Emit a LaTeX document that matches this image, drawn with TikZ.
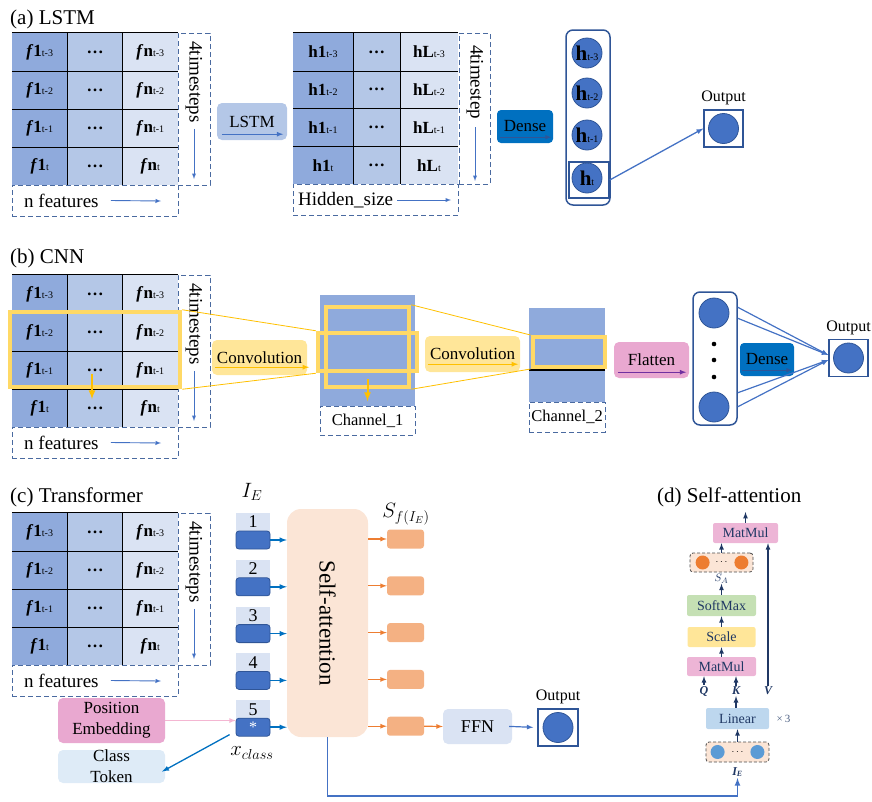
\documentclass[tikz,border=0pt]{standalone}
\usepackage{fontspec}
\setmainfont{Liberation Serif}
\usetikzlibrary{arrows,calc,positioning}

\definecolor{colA}{HTML}{8FAADC}
\definecolor{colB}{HTML}{B4C7E7}
\definecolor{colC}{HTML}{DAE3F3}
\definecolor{cFrame}{HTML}{2F5597}
\definecolor{cDash}{HTML}{4A6AA0}
\definecolor{cBall}{HTML}{4472C4}
\definecolor{cDense}{HTML}{0070C0}
\definecolor{cConv}{HTML}{FFE699}
\definecolor{cWin}{HTML}{FFD966}
\definecolor{cGold}{HTML}{FFC000}
\definecolor{cPink}{HTML}{E9A8D0}
\definecolor{cPinkD}{HTML}{EDB5D6}
\definecolor{cPinkA}{HTML}{F4B6D2}
\definecolor{cPurp}{HTML}{7030A0}
\definecolor{cSA}{HTML}{FBE5D6}
\definecolor{cSF}{HTML}{F4B183}
\definecolor{cOrA}{HTML}{ED7D31}
\definecolor{cTok}{HTML}{0070C0}
\definecolor{cNavy}{HTML}{203864}
\definecolor{cSoft}{HTML}{C5E0B4}
\definecolor{cLin}{HTML}{BDD7EE}
\definecolor{cDot}{HTML}{5B9BD5}
\definecolor{cCls}{HTML}{DEEBF7}

\newcommand{\idx}[1]{{\fontsize{10}{10}\selectfont\mdseries\upshape #1}}

\begin{document}
\begin{tikzpicture}[x=1pt, y=-1pt,
    cell/.style  ={rectangle, minimum width=55.3, minimum height=38, inner sep=0, font=\fontsize{17}{17}\selectfont\bfseries},
    grid/.style  ={draw=black, line width=0.9pt},
    dbox/.style  ={rectangle, draw=cDash, dash pattern=on 5pt off 3pt, line width=1pt, inner sep=0},
    title/.style ={anchor=west, inner sep=0, font=\fontsize{21}{21}\selectfont},
    lbl/.style   ={inner sep=0, font=\fontsize{19}{19}\selectfont},
    op/.style    ={rectangle, rounded corners=5pt, inner sep=0, font=\fontsize{17}{17}\selectfont},
    flow/.style  ={-latex, draw=cBall, line width=0.9pt},
    ball/.style  ={circle, fill=cBall, draw=cFrame, line width=0.8pt, minimum size=30, inner sep=0},
    outsq/.style ={rectangle, draw=cFrame, line width=1.5pt, minimum width=39, minimum height=37},
    win/.style   ={rectangle, draw=cWin, line width=4.5pt, inner sep=0},
    ray/.style   ={draw=cGold, line width=0.8pt},
    tokl/.style  ={rectangle, fill=colC, minimum width=34, minimum height=36, inner sep=0},
    tokd/.style  ={rectangle, rounded corners=3pt, fill=cBall, draw=cFrame, line width=0.8pt, minimum width=34, minimum height=18, inner sep=0},
    sfbox/.style ={rectangle, rounded corners=3pt, fill=cSF, minimum width=37, minimum height=19, inner sep=0},
    tokarrow/.style={-latex, draw=cTok, line width=1.5pt},
    orarrow/.style ={-latex, draw=cOrA, line width=1.2pt},
    blk/.style   ={rectangle, rounded corners=2pt, minimum height=20, inner sep=0, text=cNavy, font=\fontsize{14}{14}\selectfont},
    dots/.style  ={rectangle, rounded corners=3pt, draw=black!70, dash pattern=on 3pt off 2pt, line width=0.8pt, fill=cSA, inner sep=0},
    dot/.style   ={circle, minimum size=14, inner sep=0},
    qkv/.style   ={inner sep=1pt, text=cNavy, font=\fontsize{12}{12}\selectfont\bfseries\itshape},
    up/.style    ={-latex, draw=cNavy, line width=1.2pt}]

    \useasboundingbox (0,0) rectangle (872,801);

    \node[title] at(10,19)  (ta) {(a) LSTM};
    \node[title] at(10,258) (tb) {(b) CNN};
    \node[title] at(10,497) (tc) {(c) Transformer};
    \node[title] at(657,497) (td) {(d) Self-attention};

    \foreach \tb/\ty in {a/33, b/275, c/513}{
      \foreach \rw/\sb in {0/t-3, 1/t-2, 2/t-1, 3/t}{
        \node[cell, fill=colA] at(39.7, \ty+19+38*\rw)  (\tb-\rw-1) {\textit{f}1\idx{\sb}};
        \node[cell, fill=colB] at(95,   \ty+19+38*\rw)  (\tb-\rw-2) {…};
        \node[cell, fill=colC] at(150.3,\ty+19+38*\rw)  (\tb-\rw-3) {\textit{f}n\idx{\sb}};
      }
      \draw[grid] (\tb-0-1.north west) -- (\tb-0-3.north east);
      \foreach \rw in {0,1,2}{
        \draw[grid] (\tb-\rw-1.south west) -- (\tb-\rw-3.south east);
      }
      \draw[grid] (\tb-0-1.north east) -- (\tb-3-1.south east);
      \draw[grid] (\tb-0-2.north east) -- (\tb-3-2.south east);
      \node[dbox, minimum width=32, minimum height=152]  at(194, \ty+76)    (\tb-steps) {};
      \node[dbox, minimum width=166, minimum height=31]  at(95, \ty+167.5)  (\tb-feat)  {};
      \node[lbl, rotate=-90] at(194, \ty+49) (\tb-st) {4timesteps};
      \coordinate (\tb-stend) at(194, \ty+146);
      \draw[flow] ($(\tb-st.east)+(0,6)$) -- (\tb-stend);
      \node[lbl, anchor=west] at(24, \ty+167.5) (\tb-nf) {n features};
      \coordinate (\tb-nfend) at(161, \ty+168);
      \draw[flow] ($(\tb-nf.east)+(12,0)$) -- (\tb-nfend);
    }

    \node[op, fill=colB, minimum width=70, minimum height=37] at(252,121.5) (lstm) {LSTM};
    \draw[flow, line width=1.2pt] ($(lstm.south west)+(5,-6)$) -- ($(lstm.south east)+(-4,-6)$);

    \foreach \rw/\sb in {0/t-3, 1/t-2, 2/t-1, 3/t}{
      \node[cell, fill=colA, minimum width=60] at(323,   51.9+37.75*\rw) (h-\rw-1) {h1\idx{\sb}};
      \node[cell, fill=colB, minimum width=47] at(376.5, 51.9+37.75*\rw) (h-\rw-2) {…};
      \node[cell, fill=colC, minimum width=58] at(429,   51.9+37.75*\rw) (h-\rw-3) {hL\idx{\sb}};
    }
    \draw[grid] (h-0-1.north west) -- (h-0-3.north east);
    \foreach \rw in {0,1,2}{
      \draw[grid] (h-\rw-1.south west) -- (h-\rw-3.south east);
    }
    \draw[grid] (h-0-1.north east) -- (h-3-1.south east);
    \draw[grid] (h-0-2.north east) -- (h-3-2.south east);
    \node[dbox, minimum width=165, minimum height=31] at(375.5,199.5) (hid) {};
    \node[lbl, anchor=west] at(298,200) (hidtxt) {Hidden\_size};
    \coordinate (hidend) at(451,200);
    \draw[flow] ($(hidtxt.east)+(4,0)$) -- (hidend);
    \node[dbox, minimum width=31, minimum height=151] at(474.5,108.5) (hsteps) {};
    \node[lbl, rotate=-90] at(475,82) (hst) {4timestep};
    \coordinate (hstend) at(475,181);
    \draw[flow] ($(hst.east)+(0,8)$) -- (hstend);

    \node[op, fill=cDense, rounded corners=4pt, minimum width=56, minimum height=33] at(525,126.5) (densea) {Dense};
    \draw[-latex, draw=cFrame, line width=1pt] ($(densea.south west)+(3,-6)$) -- ($(densea.south east)+(-2,-6)$);
    \node[rectangle, draw=cFrame, line width=1.5pt, rounded corners=7pt, minimum width=44, minimum height=175] at(588,117.5) (hcol) {};
    \node[ball, font=\fontsize{21}{21}\selectfont\bfseries] at(587,53)  (h3) {h\idx{t-3}};
    \node[ball, font=\fontsize{21}{21}\selectfont\bfseries] at(587,93)  (h2) {h\idx{t-2}};
    \node[ball, font=\fontsize{21}{21}\selectfont\bfseries] at(587,135) (h1) {h\idx{t-1}};
    \node[ball, font=\fontsize{21}{21}\selectfont\bfseries] at(587,178) (h0) {h\idx{t}};
    \node[rectangle, draw=cFrame, line width=1.5pt, minimum width=40, minimum height=36] at(589,180) (htbox) {};
    \node[outsq] at(723.5,128.5) (outa) {};
    \node[ball] at(outa) (outab) {};
    \node[lbl, font=\fontsize{16}{16}\selectfont, above=4pt of outa] (outal) {Output};
    \draw[flow, line width=1.3pt] (htbox.east) -- (outa.west);

    \node[win, minimum width=170, minimum height=75] at(95,349.5) (wina) {};
    \draw[-latex, draw=cGold, line width=2pt] ($(wina.south)+(-3,-15)$) -- ($(wina.south)+(-3,10)$);
    \node[op, fill=cConv, minimum width=95, minimum height=35] at(259.5,357.5) (conva) {Convolution};
    \draw[-latex, draw=cGold, line width=1.3pt] ($(conva.south west)+(3,-8)$) -- ($(conva.south east)+(2,-8)$);
    \node[rectangle, fill=colA, minimum width=95, minimum height=111] at(367.5,350.5) (cha) {};
    \node[win, minimum width=83, minimum height=80] at(367.5,347) (vwina) {};
    \node[win, minimum width=99, minimum height=38] at(367.5,352) (hwina) {};
    \draw[-latex, draw=cGold, line width=2pt] ($(hwina.south)+(0,6)$) -- ($(hwina.south)+(0,28)$);
    \node[dbox, minimum width=95, minimum height=29, font=\fontsize{16.5}{16.5}\selectfont] at(367.5,420.5) (chal) {Channel\_1};
    \draw[ray] (wina.north east) -- (hwina.north west);
    \draw[ray] (wina.south east) -- (hwina.south west);

    \node[op, fill=cConv, minimum width=95, minimum height=36] at(472.5,354) (convb) {Convolution};
    \draw[-latex, draw=cGold, line width=1.3pt] ($(convb.south west)+(3,-8)$) -- ($(convb.south east)+(-2,-8)$);
    \node[rectangle, fill=colA, minimum width=76, minimum height=94] at(567,355) (chb) {};
    \node[win, line width=4pt, minimum width=72, minimum height=30] at(568.5,352) (winb) {};
    \draw[line width=1.2pt] ($(chb.west)+(0,15)$) -- ($(chb.east)+(0,15)$);
    \node[dbox, minimum width=76, minimum height=30, font=\fontsize{16.5}{16.5}\selectfont] at(567,417) (chbl) {Channel\_2};
    \draw[ray] (vwina.north east) -- (winb.north west);
    \draw[ray] (vwina.south east) -- (winb.south west);

    \node[op, fill=cPink, minimum width=75, minimum height=36] at(651.5,360) (flat) {Flatten};
    \draw[-latex, draw=cPurp, line width=1.2pt] ($(flat.south west)+(4,-6)$) -- ($(flat.south east)+(-3,-6)$);
    \node[rectangle, draw=cFrame, line width=1.5pt, rounded corners=7pt, minimum width=44, minimum height=133] at(715,358.5) (fcol) {};
    \node[ball] at(714,313) (fb1) {};
    \node[ball] at(714,407) (fb2) {};
    \foreach \d in {344,360,377}{
      \fill (714,\d) circle (2.3);
    }
    \node[op, fill=cDense, rounded corners=4pt, minimum width=54, minimum height=33] at(767,359.5) (denseb) {Dense};
    \draw[-latex, draw=cFrame, line width=1pt] ($(denseb.south west)+(2,-6)$) -- ($(denseb.south east)+(-2,-6)$);
    \node[outsq] at(848.5,358) (outb) {};
    \node[ball] at(outb) (outbb) {};
    \node[lbl, font=\fontsize{16}{16}\selectfont, above=4pt of outb] (outbl) {Output};
    \draw[flow, line width=1.2pt] ($(fcol.north east)+(0,16)$) -- ($(outb.west)+(0,-3)$);
    \draw[flow, line width=1.2pt] ($(fcol.north east)+(0,27)$) -- ($(outb.west)+(0,-3)$);
    \draw[flow, line width=1.2pt] ($(fcol.south east)+(0,-33)$) -- ($(outb.west)+(0,2)$);
    \draw[flow, line width=1.2pt] ($(fcol.south east)+(0,-19)$) -- ($(outb.west)+(0,2)$);

    \node[font=\fontsize{20}{20}\selectfont] at(252,492) (ie) {$I_E$};
    \node[rectangle, fill=cSA, rounded corners=14pt, minimum width=81, minimum height=228] at(327.5,623) (sa) {};
    \node[rotate=-90, font=\fontsize{23}{23}\selectfont] at(sa) (satxt) {Self-attention};
    \foreach \k in {1,...,5}{
      \node[tokl] at(253, {531+46.8*(\k-1)}) (tokl\k) {};
      \node[tokd] at(253, {540+46.8*(\k-1)}) (tok\k) {};
      \node[font=\fontsize{18}{18}\selectfont, inner sep=0] at(253, {522+46.8*(\k-1)}) (num\k) {\k};
      \draw[tokarrow] (tok\k.east) -- (tok\k.east -| sa.west);
      \node[sfbox] at(405.5, {539+46.8*(\k-1)}) (sf\k) {};
      \draw[orarrow] (sa.east |- sf\k.west) -- (sf\k.west);
    }
    \node[text=white, font=\fontsize{16}{16}\selectfont, inner sep=0] at(tok5) (star) {*};
    \node[font=\fontsize{20}{20}\selectfont] at(406,514) (sfl) {$S_{f(I_E)}$};
    \node[op, fill=colC, minimum width=69, minimum height=35, font=\fontsize{18}{18}\selectfont] at(477.5,726.5) (ffn) {FFN};
    \draw[orarrow] (sf5.east) -- (ffn.west);
    \node[outsq, minimum width=40] at(558,727.5) (outc) {};
    \node[ball] at(outc) (outcb) {};
    \node[lbl, font=\fontsize{16}{16}\selectfont, above=4pt of outc] (outcl) {Output};
    \draw[flow, line width=1.2pt, shorten <=-3pt, shorten >=4pt] (ffn.east) -- (outc.west);
    \node[op, fill=cPink, minimum width=107, minimum height=45, align=center, font=\fontsize{17}{21}\selectfont] at(111.5,720.5) (pos) {Position\\Embedding};
    \draw[-latex, draw=cPinkA, line width=1.2pt] (pos.east) -- (pos.east -| tokl5.west);
    \node[op, fill=cCls, minimum width=107, minimum height=33, align=center, font=\fontsize{17}{21}\selectfont] at(111.5,766.5) (cls) {Class\\Token};
    \draw[-latex, draw=cTok, line width=1.3pt] ($(tok5.south west)+(-6,-2)$) -- ($(cls.east)+(-3,5)$);
    \node[font=\fontsize{20}{20}\selectfont] at(252,753) (xcl) {$x_{class}$};

    \node[blk, fill=cPinkD, minimum width=65] at(745.5,533) (mmb) {MatMul};
    \coordinate (dtop) at(745.5,512);
    \draw[up] (mmb.north) -- (dtop);
    \node[dots, minimum width=63, minimum height=19] at(721.5,562.5) (sq) {$\cdots$};
    \node[dot, fill=cOrA] at($(sq.west)+(13,0)$) (sq1) {};
    \node[dot, fill=cOrA] at($(sq.east)+(-12,0)$) (sq2) {};
    \draw[up] (sq.north) -- (sq.north |- mmb.south);
    \node[text=cNavy, font=\fontsize{11}{11}\selectfont, inner sep=0] at(721.5,579) (sA) {$S_A$};
    \node[blk, fill=cSoft, minimum width=69, minimum height=21] at(721.5,605.5) (soft) {SoftMax};
    \draw[up] (soft.north) -- (sA.south);
    \node[blk, fill=cConv, minimum width=68] at(721.5,637) (scale) {Scale};
    \draw[up] (scale) -- (soft);
    \node[blk, fill=cPinkD, minimum width=69, minimum height=19] at(721.5,666.5) (mma) {MatMul};
    \draw[up] (mma) -- (scale);
    \node[qkv] at(704,691) (q) {Q};
    \node[qkv] at(736,691) (k) {K};
    \node[qkv] at(768,691) (v) {V};
    \draw[up] (q.north) -- (q.north |- mma.south);
    \draw[up] (k.north) -- (k.north |- mma.south);
    \draw[up] (v.north) -- (v.north |- mmb.south);
    \node[blk, fill=cLin, minimum width=63, minimum height=21] at(737.5,718.5) (lin) {Linear};
    \node[text=cNavy!80, font=\fontsize{11}{11}\selectfont, anchor=west, xshift=4pt] at(lin.east) (times) {×\,3};
    \draw[up] (lin.north -| k) -- (k.south);
    \node[dots, minimum width=63, minimum height=20] at(737.5,752) (ind) {$\cdots$};
    \node[dot, fill=cDot] at($(ind.west)+(12,0)$) (in1) {};
    \node[dot, fill=cDot] at($(ind.east)+(-12,0)$) (in2) {};
    \draw[up] (ind) -- (lin);
    \node[qkv] at(737.5,772) (ied) {I\textsubscript{E}};

    \coordinate (bus) at(600,796);
    \draw[-latex, draw=cBall, line width=1.6pt] (sa.south) -- (sa.south |- bus) -| (ied.south);
\end{tikzpicture}
\end{document}
